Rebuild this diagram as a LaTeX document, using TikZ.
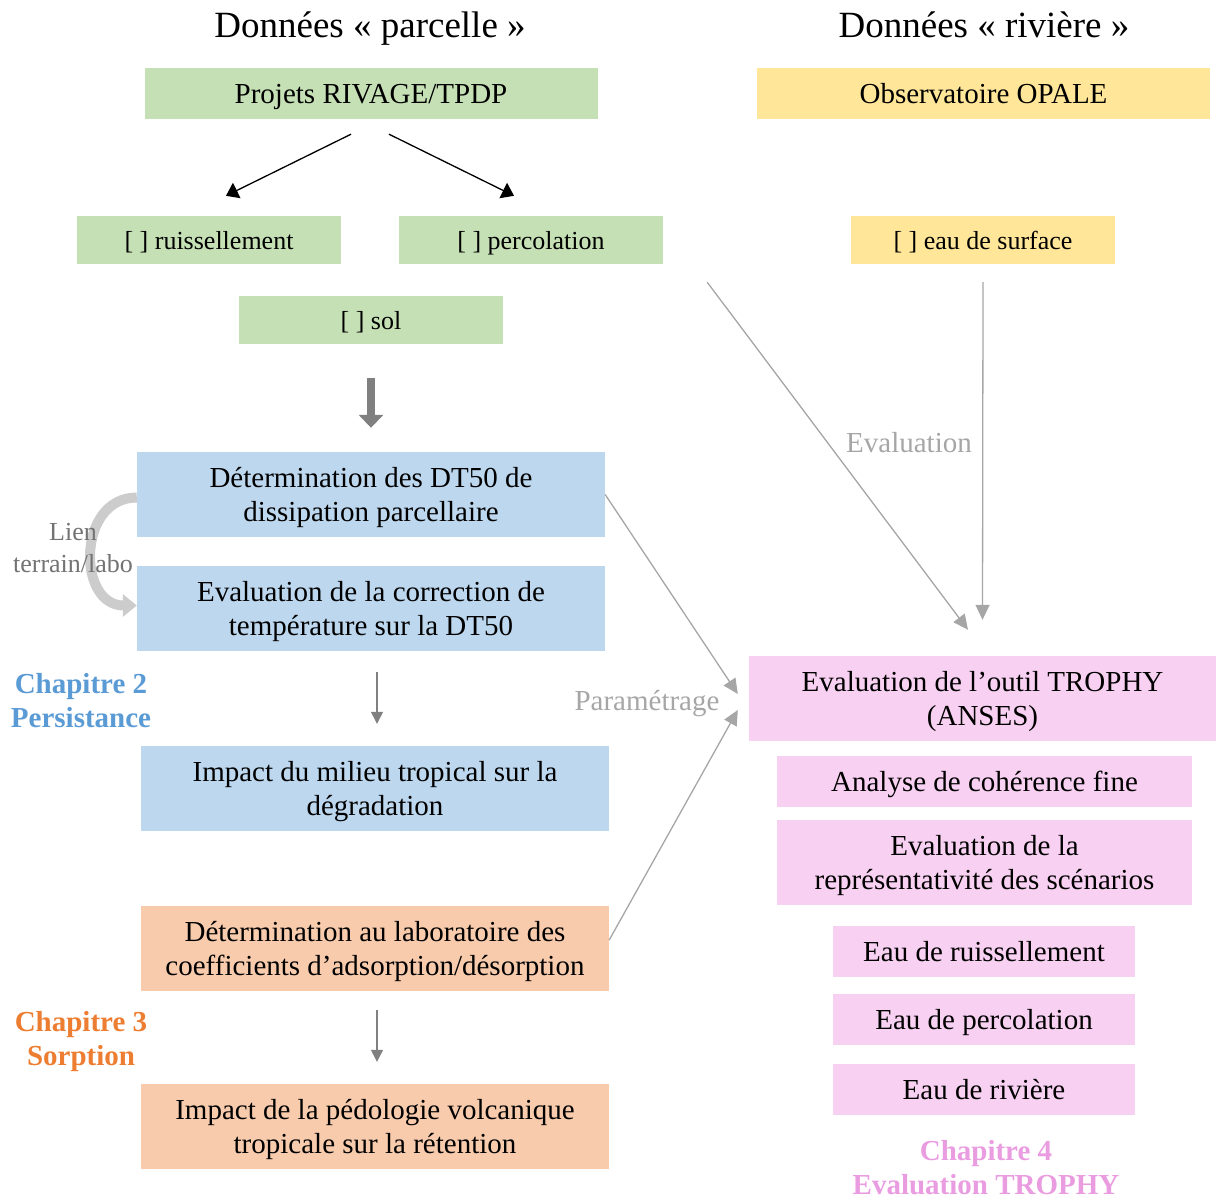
\documentclass[tikz,border=0pt]{standalone}
\usepackage{fontspec}
\setmainfont{Liberation Serif}
\usetikzlibrary{arrows.meta}

\definecolor{parcgreen}{HTML}{C5E0B4}
\definecolor{rivyellow}{HTML}{FFE699}
\definecolor{persblue}{HTML}{BDD7EE}
\definecolor{sorporange}{HTML}{F8CBAD}
\definecolor{trophypink}{HTML}{F8D0F1}
\definecolor{chapblue}{HTML}{5B9BD5}
\definecolor{chaporange}{HTML}{ED7D31}
\definecolor{chappink}{HTML}{EA9CE1}
\definecolor{linkgray}{HTML}{A6A6A6}

\begin{document}
\begin{tikzpicture}[x=1pt, y=-1pt]
    \useasboundingbox (0,0) rectangle (1217,1200);
    {
        \tikzset{every node/.style = {shape=rectangle, inner sep=0pt, text depth=0pt, align=center, font=\fontsize{29}{34}\selectfont}}
        \tikzset{bigbox/.style = {minimum width=468pt, minimum height=85pt}}
        \tikzset{smallbox/.style = {minimum width=264pt, minimum height=48pt, font=\fontsize{26}{30}\selectfont}}

        \node (tparc) at (370, 25) {\fontsize{37}{42}\selectfont Données « parcelle »};
        \node (triv) at (984, 25) {\fontsize{37}{42}\selectfont Données « rivière »};

        \node[fill=parcgreen, minimum width=453pt, minimum height=51pt] (proj) at (371, 93.5) {Projets RIVAGE/TPDP};
        \node[fill=rivyellow, minimum width=453pt, minimum height=51pt] (opale) at (983.5, 93.5) {Observatoire OPALE};

        \node[smallbox, fill=parcgreen] (ruis) at (209, 240) {[ ] ruissellement};
        \node[smallbox, fill=parcgreen] (perc) at (531, 240) {[ ] percolation};
        \node[smallbox, fill=rivyellow] (surf) at (983, 240) {[ ] eau de surface};
        \node[smallbox, fill=parcgreen] (sol) at (371, 320) {[ ] sol};

        \node[bigbox, fill=persblue] (dt50) at (371, 494.5) {Détermination des DT50 de\\dissipation parcellaire};
        \node[bigbox, fill=persblue] (corr) at (371, 608.5) {Evaluation de la correction de\\température sur la DT50};
        \node[bigbox, fill=persblue] (trop) at (375, 788.5) {Impact du milieu tropical sur la\\dégradation};
        \node[bigbox, fill=sorporange] (adso) at (375, 948.5) {Détermination au laboratoire des\\coefficients d’adsorption/désorption};
        \node[bigbox, fill=sorporange] (pedo) at (375, 1126.5) {Impact de la pédologie volcanique\\tropicale sur la rétention};

        \node[bigbox, minimum width=467pt, fill=trophypink] (outil) at (982.5, 698.5) {Evaluation de l’outil TROPHY\\(ANSES)};
        \node[fill=trophypink, minimum width=415pt, minimum height=51pt] (coh) at (984.5, 781.5) {Analyse de cohérence fine};
        \node[fill=trophypink, minimum width=415pt, minimum height=85pt] (repr) at (984.5, 862.5) {Evaluation de la\\représentativité des scénarios};
        \node[fill=trophypink, minimum width=302pt, minimum height=51pt] (eruis) at (984, 951.5) {Eau de ruissellement};
        \node[fill=trophypink, minimum width=302pt, minimum height=51pt] (eperc) at (984, 1019.5) {Eau de percolation};
        \node[fill=trophypink, minimum width=302pt, minimum height=51pt] (eriv) at (984, 1089.5) {Eau de rivière};

        \node[text=chapblue, font=\fontsize{29}{34}\selectfont\bfseries] (chap2) at (81, 700) {Chapitre 2\\Persistance};
        \node[text=chaporange, font=\fontsize{29}{34}\selectfont\bfseries] (chap3) at (81, 1038) {Chapitre 3\\Sorption};
        \node[text=chappink, font=\fontsize{29}{34}\selectfont\bfseries] (chap4) at (986, 1167) {Chapitre 4\\Evaluation TROPHY};

        \node[text=linkgray] (leval) at (909, 442) {Evaluation};
        \node[text=linkgray] (lparam) at (647, 700) {Paramétrage};
    }

        \draw[line width=1.3pt, -{Triangle[length=12pt, width=17pt]}] ([xshift=-20pt, yshift=-15pt]proj.south) -- ([xshift=17pt, yshift=20pt]ruis.north);
        \draw[line width=1.3pt, -{Triangle[length=12pt, width=17pt]}] ([xshift=18pt, yshift=-15pt]proj.south) -- ([xshift=-17pt, yshift=20pt]perc.north);

        \draw[gray, line width=8pt, -{Triangle[length=13pt, width=24pt]}] ([yshift=-34pt]sol.south) -- ([yshift=24pt]dt50.north);

        \draw[gray, line width=1.3pt, -{Triangle[length=12pt, width=12pt]}] ([xshift=6pt, yshift=-21pt]corr.south) -- ([xshift=2pt, yshift=22pt]trop.north);
        \draw[gray, line width=1.3pt, -{Triangle[length=12pt, width=12pt]}] ([xshift=2pt, yshift=-19pt]adso.south) -- ([xshift=2pt, yshift=22pt]pedo.north);

        \draw[linkgray, line width=1.3pt, -{Triangle[length=15pt, width=14pt]}] ([xshift=44pt, yshift=-18pt]perc.south east) -- ([xshift=-14.5pt, yshift=26pt]outil.north);
        \draw[linkgray, line width=1.3pt, -{Triangle[length=15pt, width=14pt]}] ([yshift=-18pt]surf.south) -- ([yshift=36pt]outil.north);
        \draw[linkgray, line width=1.3pt, -{Triangle[length=15pt, width=14pt]}] (dt50.east) -- ([xshift=-11pt, yshift=4.5pt]outil.west);
        \draw[linkgray, line width=1.3pt, -{Triangle[length=15pt, width=14pt]}] ([yshift=8.5pt]adso.east) -- ([xshift=-11pt, yshift=-11.5pt]outil.west);

        %lien terrain/labo
        \draw[black!20, line width=10pt, -{Triangle[length=14pt, width=22pt]}] ([yshift=-3pt]dt50.west) .. controls +(-60,0) and +(-60,0) .. ([yshift=3pt]corr.west);
        \node[text=black!55, align=center, font=\fontsize{26}{32}\selectfont] (lien) at (73, 548) {Lien\\terrain/labo};

\end{tikzpicture}
\end{document}
